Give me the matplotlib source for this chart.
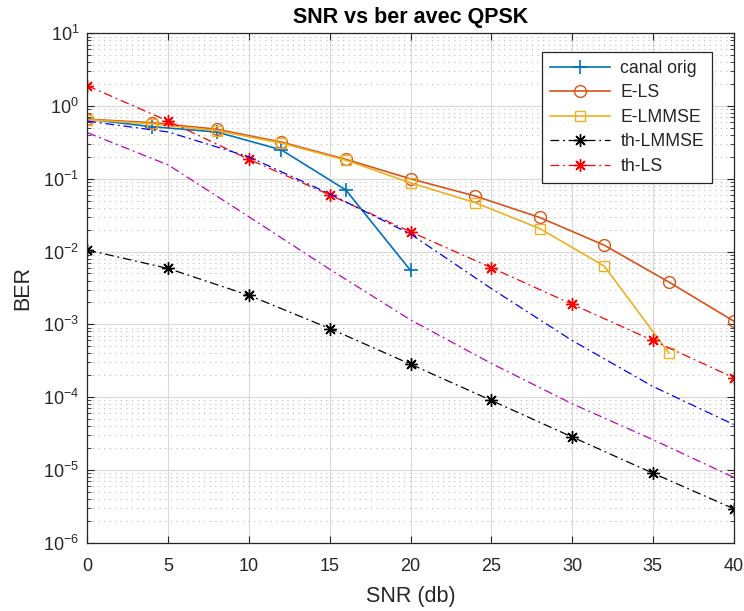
import matplotlib
matplotlib.use("Agg")
import matplotlib.pyplot as plt
from matplotlib.ticker import LogLocator, NullFormatter, FixedLocator

plt.rcParams['font.family'] = ['Liberation Sans', 'DejaVu Sans']
plt.rcParams['mathtext.fontset'] = 'custom'
plt.rcParams['mathtext.rm'] = 'Liberation Sans'
plt.rcParams['mathtext.it'] = 'Liberation Sans:italic'
plt.rcParams['mathtext.bf'] = 'Liberation Sans:bold'

# Data
snr_canal = [0, 4, 8, 12, 16, 20]
ber_canal = [0.66, 0.52, 0.44, 0.25, 0.07, 0.0055]

snr_e = [0, 4, 8, 12, 16, 20, 24, 28, 32, 36, 40]
ber_els = [0.66, 0.59, 0.48, 0.32, 0.185, 0.1, 0.058, 0.0294, 0.0122, 0.0038, 0.00111]

snr_elmmse = [0, 4, 8, 12, 16, 20, 24, 28, 32, 36]
ber_elmmse = [0.65, 0.57, 0.46, 0.31, 0.18, 0.088, 0.047, 0.0207, 0.0063, 0.0004]

snr_th = [0, 5, 10, 15, 20, 25, 30, 35, 40]
ber_th_lmmse = [0.0105, 0.00585, 0.0025, 0.000875, 0.000283, 9.0e-5, 2.83e-5, 9.0e-6, 2.92e-6]
ber_th_ls = [1.9, 0.62, 0.185, 0.06, 0.0187, 0.006, 0.00189, 0.0006, 0.000185]
ber_blue = [0.62, 0.44, 0.2, 0.062, 0.0174, 0.0031, 0.0006, 0.00014, 4.2e-5]
ber_magenta = [0.43, 0.155, 0.030, 0.0057, 0.00115, 0.00029, 8.1e-5, 2.6e-5, 7.9e-6]

xticks = [0, 5, 10, 15, 20, 25, 30, 35, 40]

fig = plt.figure(figsize=(7.44, 6.11), dpi=100)
ax = fig.add_axes([0.1176, 0.112, 0.8684, 0.8335])

ast = (8, 2, 0)
dd = (0, (7, 3, 1.5, 3))
ax.semilogy(snr_canal, ber_canal, '-+', color='#0072BD', lw=1.2, ms=10, mew=1.2, label='canal orig')
ax.semilogy(snr_e, ber_els, '-o', color='#D95319', lw=1.2, ms=8.5, mfc='none', mew=1.0, label='E-LS')
ax.semilogy(snr_elmmse, ber_elmmse, '-s', color='#EDB120', lw=1.2, ms=7, mfc='none', mew=1.0, label='E-LMMSE')
ax.semilogy(snr_th, ber_th_lmmse, color='k', marker=ast, ls=dd, lw=0.9, ms=9, mew=1.0, label='th-LMMSE')
ax.semilogy(snr_th, ber_th_ls, color='r', marker=ast, ls=dd, lw=0.9, ms=9, mew=1.0, label='th-LS')
ax.semilogy(snr_th, ber_blue, color='b', ls=dd, lw=0.9)
ax.semilogy(snr_th, ber_magenta, color='m', ls=dd, lw=0.9)

ax.set_xlim(0, 40)
ax.set_ylim(1e-6, 1e1)
ax.xaxis.set_major_locator(FixedLocator(xticks))
ax.yaxis.set_major_locator(LogLocator(base=10, numticks=20))
ax.yaxis.set_minor_locator(LogLocator(base=10, subs=range(2, 10), numticks=20))
ax.yaxis.set_minor_formatter(NullFormatter())

gc = '#262626'
ax.grid(True, which='major', color='#d8d8d8', lw=0.8, ls='-')
ax.grid(True, which='minor', axis='y', color='#bdbdbd', lw=0.8, ls=(0, (1, 4)))
ax.set_axisbelow(True)
ax.tick_params(which='both', direction='in', top=True, right=True, colors=gc, labelcolor=gc, labelsize=13)
ax.tick_params(which='major', length=5)
ax.tick_params(which='minor', length=3)
ax.tick_params(axis='x', which='major', pad=11)
ax.tick_params(axis='y', which='major', pad=6)
for s in ax.spines.values():
    s.set_color(gc)
    s.set_linewidth(0.9)

ax.set_title('SNR vs ber avec QPSK', fontsize=15.5, fontweight='bold', color='k', pad=7.5)
ax.set_xlabel('SNR (db)', fontsize=15.5, color=gc, labelpad=8)
ax.set_ylabel('BER', fontsize=15.5, color=gc, labelpad=7)

leg = ax.legend(loc='upper right', bbox_to_anchor=(0.9665, 0.963), fontsize=12.7,
                frameon=True, fancybox=False, edgecolor=gc, framealpha=1,
                handlelength=3.4, handletextpad=0.6, borderpad=0.45, labelspacing=0.42,
                borderaxespad=0)
leg.get_frame().set_linewidth(0.9)
for t in leg.get_texts():
    t.set_color(gc)

fig.savefig('out.png', dpi=100)
